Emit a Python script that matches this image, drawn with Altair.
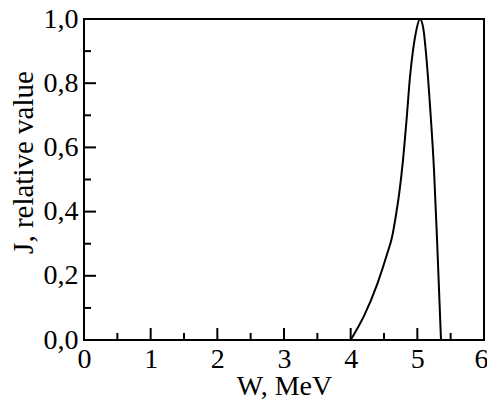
import altair as alt
import pandas as pd

# Curve data
W = [4.0, 4.2, 4.4, 4.55, 4.62, 4.68, 4.73, 4.78, 4.84, 4.89, 4.94, 4.98, 5.04,
     5.09, 5.14, 5.19, 5.25, 5.30, 5.355]
J = [0.0, 0.075, 0.175, 0.27, 0.32, 0.39, 0.46, 0.55, 0.69, 0.82, 0.91, 0.96, 1.0,
     0.97, 0.87, 0.73, 0.53, 0.29, 0.0]

x_major = [0, 1, 2, 3, 4, 5, 6]
x_minor = [0.5, 1.5, 2.5, 3.5, 4.5, 5.5]
y_major = [0.0, 0.2, 0.4, 0.6, 0.8, 1.0]
y_minor = [0.1, 0.3, 0.5, 0.7, 0.9]

WIDTH = 400
HEIGHT = 321
FONT = "Liberation Serif"

xscale = alt.Scale(domain=[0, 6], nice=False, zero=False)
yscale = alt.Scale(domain=[0, 1], nice=False, zero=False)

df = pd.DataFrame({"W": W, "J": J})

line = alt.Chart(df).mark_line(color="black", strokeWidth=2, interpolate="monotone", clip=True).encode(
    x=alt.X("W:Q", scale=xscale,
            axis=alt.Axis(values=x_major, format="d", ticks=False, domain=False, grid=False,
                          labelFont=FONT, labelFontSize=28, labelColor="black",
                          labelPadding=5, labelFlush=False, labelOverlap=False,
                          labelOffset=alt.condition("datum.value == 6", alt.value(-3), alt.value(0)),
                          title="W, MeV", titleFont=FONT,
                          titleFontSize=28, titleFontWeight="normal", titleColor="black",
                          titlePadding=-1)),
    y=alt.Y("J:Q", scale=yscale,
            axis=alt.Axis(values=y_major, ticks=False, domain=False, grid=False,
                          labelFont=FONT, labelFontSize=28, labelColor="black",
                          labelPadding=6, labelFlush=False, labelOverlap=False,
                          labelExpr="replace(format(datum.value, '.1f'), '.', ',')",
                          title="J, relative value", titleFont=FONT,
                          titleFontSize=29, titleFontWeight="normal", titleColor="black",
                          titleAngle=270, titleBaseline="alphabetic", titleAlign="center",
                          titleX=-52, titleY=143)),
)

def xticks(vals, length):
    d = pd.DataFrame({"W": vals})
    return alt.Chart(d).mark_rule(color="black", strokeWidth=2).encode(
        x=alt.X("W:Q", scale=xscale),
        y=alt.value(HEIGHT),
        y2=alt.value(HEIGHT - length),
    )

def yticks(vals, length):
    d = pd.DataFrame({"J": vals})
    return alt.Chart(d).mark_rule(color="black", strokeWidth=2).encode(
        y=alt.Y("J:Q", scale=yscale),
        x=alt.value(0),
        x2=alt.value(length),
    )

chart = alt.layer(
    line,
    xticks(x_major, 12), xticks(x_minor, 7),
    yticks(y_major, 12), yticks(y_minor, 7),
).properties(
    width=WIDTH, height=HEIGHT,
    autosize=alt.AutoSizeParams(type="none"),
    padding={"left": 76, "top": 11, "right": 3, "bottom": 60},
    background="white",
).configure_view(
    stroke="black", strokeWidth=2
)

chart.save("out.html", embed_options={"renderer": "svg", "actions": False})
